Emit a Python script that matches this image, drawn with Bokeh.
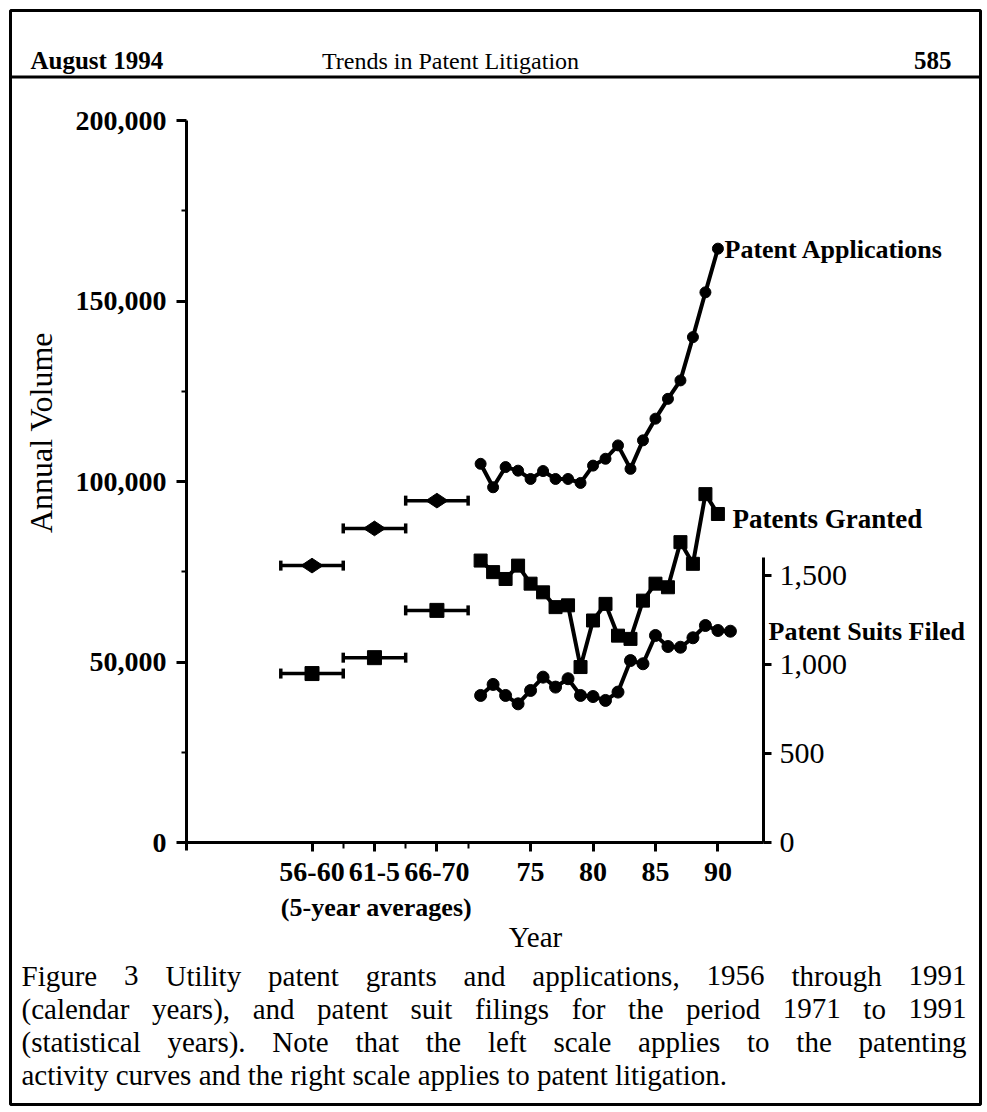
import math
from bokeh.plotting import figure
from bokeh.models import (Range1d, LinearAxis, FixedTicker, Label, BoxAnnotation,
                          NumeralTickFormatter)
from bokeh.embed import file_html
from bokeh.resources import INLINE

# ---------------- data ----------------
annual_years = list(range(71, 91))           # 1971-1990
applications = [104900, 98400, 104000, 103000, 100700, 102900, 100700, 100700, 99600, 104400,
                106300, 110000, 103500, 111400, 117400, 122900, 128000, 140000, 152400, 164500]
granted = [78100, 74900, 73000, 76700, 71700, 69300, 65200, 65700, 48600, 61500,
           66100, 57300, 56400, 67000, 71700, 70700, 83200, 77200, 96500, 91000]
suit_years = list(range(71, 92))             # 1971-1991
suits = [826, 888, 826, 779, 854, 929, 873, 920, 826, 820,
         798, 845, 1022, 1004, 1163, 1101, 1097, 1150, 1219, 1191, 1187]
avg_labels = ["56-60", "61-5", "66-70"]
avg_centers = [57.5, 62.5, 67.5]
apps_avg = [76700, 87000, 94700]
granted_avg = [46800, 51200, 64300]
year_ticks = [75, 80, 85, 90]
left_ticks = [0, 50000, 100000, 150000, 200000]
right_ticks = [0, 500, 1000, 1500]

caption_lines = [
    "Figure 3 Utility patent grants and applications, 1956 through 1991",
    "(calendar years), and patent suit filings for the period 1971 to 1991",
    "(statistical years). Note that the left scale applies to the patenting",
    "activity curves and the right scale applies to patent litigation.",
]

# ---------------- geometry (page px) ----------------
W, H = 987, 1112
CL, CR, CT, CB = 186, 763, 120, 842      # chart box
X0, X1 = 47.45, 93.65
Y1 = 200000
R1 = 4056
SERIF = "Liberation Serif"

xpp = (X1 - X0) / (CR - CL)
ypp = Y1 / (CB - CT)
rpp = R1 / (CB - CT)
x_range = Range1d(X0 - CL * xpp, X1 + (W - CR) * xpp)
y_range = Range1d(-(H - CB) * ypp, Y1 + CT * ypp)
r_range = Range1d(-(H - CB) * rpp, R1 + CT * rpp)


def sx(px):
    return px


def sy(py):
    return H - py


TW = {' ': 250, 'a': 444, 'b': 500, 'c': 444, 'd': 500, 'e': 444, 'f': 333, 'g': 500, 'h': 500,
      'i': 278, 'j': 278, 'k': 500, 'l': 278, 'm': 778, 'n': 500, 'o': 500, 'p': 500, 'q': 500,
      'r': 333, 's': 389, 't': 278, 'u': 500, 'v': 500, 'w': 722, 'x': 500, 'y': 500, 'z': 444,
      'F': 556, 'N': 722, 'U': 722, '(': 333, ')': 333, ',': 250, '.': 250}


def tw(s, size):
    return sum(TW.get(c, 500) for c in s) * size / 1000.0


p = figure(width=W, height=H, x_range=x_range, y_range=y_range,
           x_axis_type=None, y_axis_type=None, output_backend="svg", toolbar_location=None,
           min_border=0)
p.outline_line_color = None
p.xgrid.visible = False
p.ygrid.visible = False
p.background_fill_color = "white"
p.border_fill_color = "white"
p.extra_y_ranges = {"suits": r_range}


def style_axis(ax, size, bold):
    ax.axis_line_width = 3
    ax.axis_line_color = "black"
    ax.major_tick_in = 0
    ax.major_tick_out = 10
    ax.minor_tick_in = 0
    ax.minor_tick_out = 5
    ax.major_tick_line_width = 3
    ax.minor_tick_line_width = 2
    ax.major_tick_line_color = "black"
    ax.minor_tick_line_color = "black"
    ax.major_label_text_font = SERIF
    ax.major_label_text_color = "black"
    ax.major_label_text_font_style = "bold" if bold else "normal"
    ax.major_label_text_font_size = f"{size}px"


# left axis
ya = LinearAxis(ticker=FixedTicker(ticks=left_ticks, minor_ticks=[25000, 75000, 125000, 175000]),
                formatter=NumeralTickFormatter(format="0,0"), fixed_location=X0,
                bounds=(-8 * ypp, Y1))
style_axis(ya, 28, True)
ya.major_label_standoff = 10
p.add_layout(ya, "left")

# bottom axis
xa = LinearAxis(ticker=FixedTicker(ticks=avg_centers + year_ticks, minor_ticks=[60, 65, 70]),
                fixed_location=0, bounds=(X0, X1))
overrides = {c: l for c, l in zip(avg_centers, avg_labels)}
overrides.update({t: str(t) for t in year_ticks})
xa.major_label_overrides = overrides
style_axis(xa, 28, True)
xa.major_tick_out = 9
xa.minor_tick_out = 6
xa.major_label_standoff = 11
p.add_layout(xa, "below")

# right axis
ra = LinearAxis(y_range_name="suits", ticker=FixedTicker(ticks=right_ticks, minor_ticks=[]),
                formatter=NumeralTickFormatter(format="0,0"), bounds=(0, 1600),
                fixed_location=X1)
style_axis(ra, 30, False)
ra.major_tick_out = 8
ra.major_label_standoff = 8
p.add_layout(ra, "right")

# ---------------- data marks ----------------
LW = 4
p.line(annual_years, applications, line_color="black", line_width=LW)
p.scatter(annual_years, applications, marker="circle", size=11, color="black")
p.line(annual_years, granted, line_color="black", line_width=LW)
p.scatter(annual_years, granted, marker="square", size=13, color="black")
p.line(suit_years, suits, line_color="black", line_width=LW, y_range_name="suits")
p.scatter(suit_years, suits, marker="circle", size=12, color="black", y_range_name="suits")

# five-year averages
starts = [c - 2.5 for c in avg_centers]
ends = [c + 2.5 for c in avg_centers]
for vals in (apps_avg, granted_avg):
    p.segment(x0=starts, y0=vals, x1=ends, y1=vals, line_color="black", line_width=3.5)
    p.scatter(starts + ends, vals + vals, marker="dash", angle=math.pi / 2, size=10,
              line_color="black", line_width=3.5)
p.scatter(avg_centers, apps_avg, marker="diamond", size=22, angle=math.pi / 2, color="black")
p.scatter(avg_centers, apps_avg, marker="circle", size=10, color="black")
p.scatter(avg_centers, granted_avg, marker="square", size=14, color="black")


# ---------------- texts ----------------
def lab(text, px, py, size, align="left", style="normal", angle=0.0, baseline="middle"):
    p.add_layout(Label(x=sx(px), y=sy(py), x_units="screen", y_units="screen", text=text,
                       text_font=SERIF, text_font_size=f"{size}px", text_font_style=style,
                       text_align=align, text_baseline=baseline, angle=angle,
                       text_color="black"))


lab("August 1994", 30, 60, 25, style="bold")
lab("Trends in Patent Litigation", 450, 60, 24, align="center")
lab("585", 951, 60, 25, align="right", style="bold")

lab("Annual Volume", 40, 432, 32, align="center", angle=math.pi / 2)
lab("Patent Applications", 724, 249, 26, style="bold")
lab("Patents Granted", 732, 518, 27, style="bold")
lab("Patent Suits Filed", 768, 631, 26, style="bold")
lab("(5-year averages)", 376, 907, 26, align="center", style="bold")
lab("Year", 535, 936, 29, align="center")

# caption, justified
CS = 29
L_EDGE, R_EDGE = 21, 966
for i, line in enumerate(caption_lines):
    py = 975 + i * 33
    words = line.split()
    if i < len(caption_lines) - 1:
        total = sum(tw(w, CS) for w in words)
        gap = (R_EDGE - L_EDGE - total) / (len(words) - 1)
        x = L_EDGE
        for w in words:
            lab(w, x, py, CS)
            x += tw(w, CS) + gap
    else:
        lab(line, L_EDGE, py, CS)

# page border and header rule
p.add_layout(BoxAnnotation(left=sx(10), right=sx(980), top=sy(10), bottom=sy(1104),
                           left_units="screen", right_units="screen", top_units="screen",
                           bottom_units="screen", fill_color=None, line_color="black",
                           line_width=3, line_alpha=1.0))
p.add_layout(BoxAnnotation(left=sx(10), right=sx(980), top=sy(75), bottom=sy(78),
                           left_units="screen", right_units="screen", top_units="screen",
                           bottom_units="screen", fill_color="black", fill_alpha=1.0,
                           line_color=None))

open("out.html", "w").write(file_html(p, INLINE))
